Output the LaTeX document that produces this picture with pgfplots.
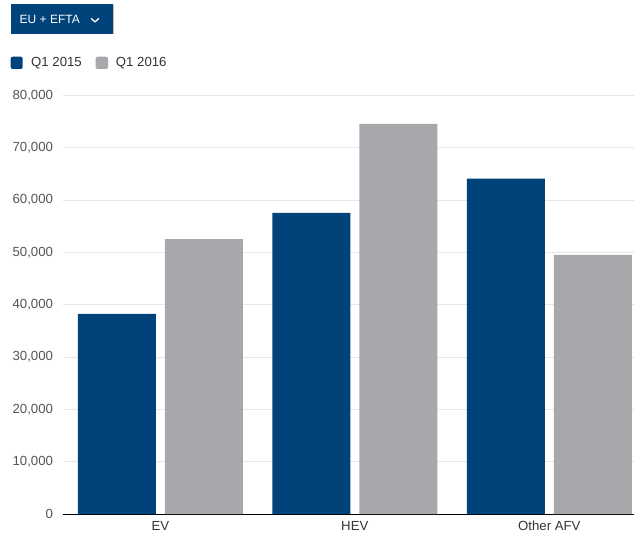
\documentclass[border=0pt]{standalone}
\usepackage{fontspec}
\setmainfont{Liberation Sans}
\usepackage{pgfplots}
\pgfplotsset{compat=1.18}
\definecolor{dblue}{HTML}{00427A}
\definecolor{lgrey}{HTML}{A7A8AC}
\definecolor{gridc}{HTML}{E6E6E6}
\definecolor{txt}{HTML}{555555}
\definecolor{ltxt}{HTML}{333333}
\begin{document}
\begin{tikzpicture}[x=1pt,y=1pt]
\useasboundingbox (-65,-25) rectangle (569,514);
\clip (-65,-25) rectangle (569,514);
% button
\fill[black!25] (-53.5,479.5) rectangle (48.8,509);
\fill[dblue] (-54,480) rectangle (48.3,509.7);
\node[anchor=base west, inner sep=0, text=white, font=\fontsize{12}{13}\selectfont] at (-45.5,490.7) {EU + EFTA};
\draw[white, line width=1.3pt, line cap=round, line join=round] (26.3,495.5)--(30,492)--(33.7,495.5);
% legend
\fill[dblue, rounded corners=2pt] (-54.3,445) rectangle (-42.3,457.3);
\node[anchor=base west, inner sep=0, text=ltxt, font=\fontsize{13.2}{15}\selectfont] at (-34,447.3) {Q1 2015};
\fill[lgrey, rounded corners=2pt] (30.7,445) rectangle (43,457.3);
\node[anchor=base west, inner sep=0, text=ltxt, font=\fontsize{13.2}{15}\selectfont] at (50.7,447.3) {Q1 2016};
\begin{axis}[
  at={(-1,0)}, anchor=south west,
  scale only axis, width=583.5pt, height=418.5pt,
  xmin=-0.5, xmax=2.5, ymin=0, ymax=80000,
  xtick={0,1,2}, xticklabels={EV,HEV,Other AFV},
  ytick={0,10000,...,80000},
  ybar=9pt, bar width=78pt,
  axis x line*=bottom, axis y line*=left,
  y axis line style={draw=none},
  x axis line style={black, line width=0.8pt},
  major tick length=0pt,
  ymajorgrids, grid style={gridc, line width=0.8pt},
  scaled y ticks=false,
  yticklabel style={font=\fontsize{13.2}{15}\selectfont, text=txt, xshift=-6.5pt},
  xticklabel style={font=\fontsize{13.2}{15}\selectfont, text=ltxt, yshift=-3.5pt},
  /pgf/number format/.cd, fixed, 1000 sep={,}, assume math mode=true,
]
\addplot[fill=dblue, draw=none] coordinates {(0,38280) (1,57580) (2,64100)};
\addplot[fill=lgrey, draw=none] coordinates {(0,52550) (1,74600) (2,49550)};
\end{axis}
\end{tikzpicture}
\end{document}
